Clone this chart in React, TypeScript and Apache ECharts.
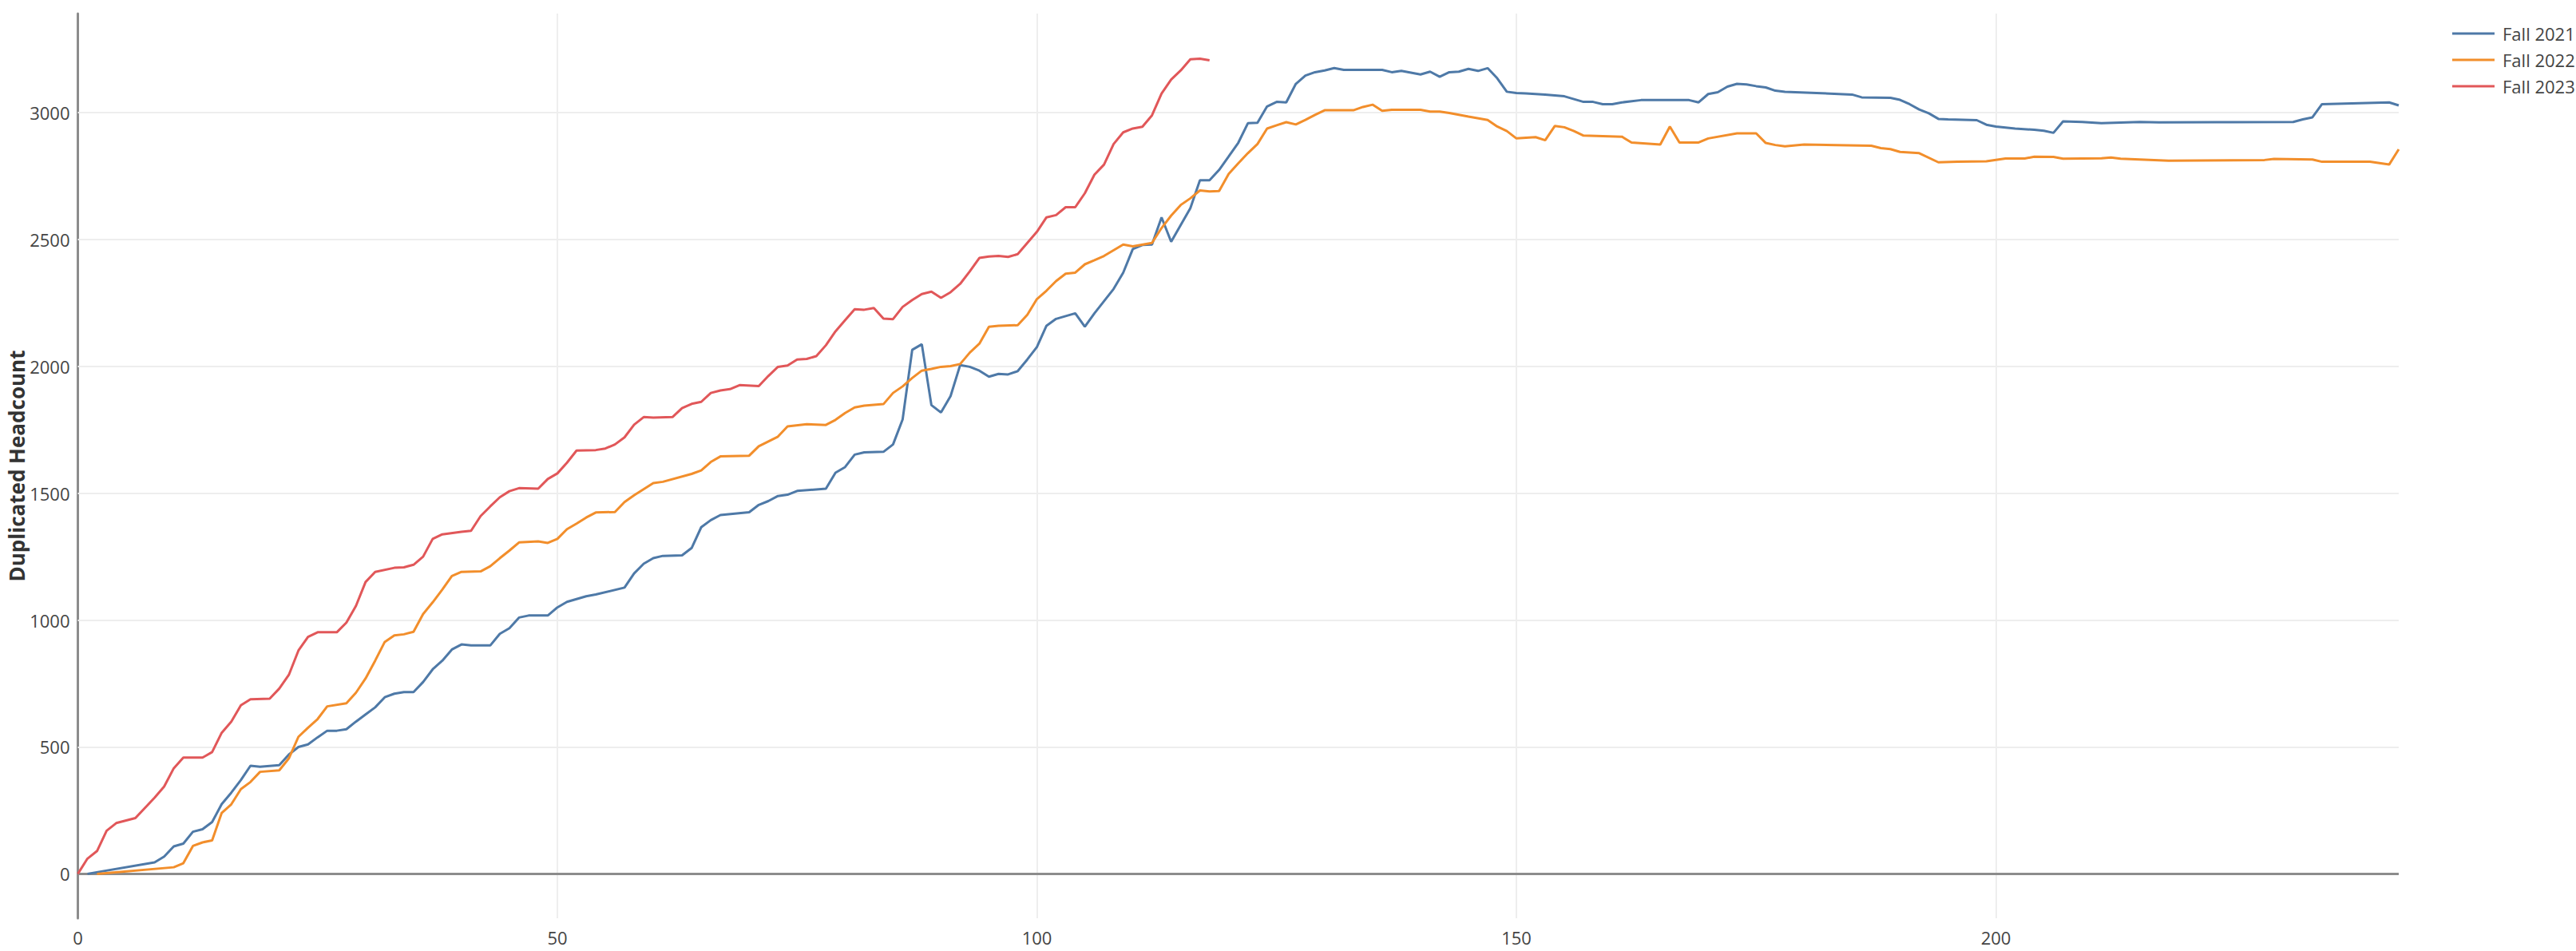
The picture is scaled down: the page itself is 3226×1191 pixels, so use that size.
import React, { useEffect, useRef } from "react";
import * as echarts from "echarts";

const seriesNames = ["Fall 2021", "Fall 2022", "Fall 2023"];
const seriesColors = ["#4e79a7", "#f28e2b", "#e15759"];
const xGridValues = [50, 100, 150, 200];
const yTickValues = [0, 500, 1000, 1500, 2000, 2500, 3000];
const yAxisTitle = "Duplicated Headcount";

// [day, duplicated headcount]
const fall2021: [number, number][] = [
  [1, 0], [8, 45], [9, 68], [10, 108], [11, 119], [12, 166], [13, 176], [14, 204], [15, 275],
  [16, 320], [17, 370], [18, 426], [19, 422], [21, 428], [22, 470], [23, 500], [24, 510],
  [25, 538], [26, 564], [27, 564], [28, 570], [29, 600], [30, 628], [31, 656], [32, 696],
  [33, 710], [34, 716], [35, 716], [36, 756], [37, 806], [38, 840], [39, 884], [40, 904],
  [41, 900], [43, 900], [44, 946], [45, 968], [46, 1010], [47, 1018], [49, 1018], [50, 1050],
  [51, 1072], [53, 1094], [54, 1101], [57, 1128], [58, 1184], [59, 1222], [60, 1244],
  [61, 1253], [63, 1255], [64, 1284], [65, 1366], [66, 1394], [67, 1414], [70, 1425],
  [71, 1454], [72, 1469], [73, 1489], [74, 1494], [75, 1509], [78, 1518], [79, 1581],
  [80, 1603], [81, 1652], [82, 1661], [84, 1663], [85, 1692], [86, 1791], [87, 2065],
  [88, 2087], [89, 1847], [90, 1818], [91, 1883], [92, 2005], [93, 1998], [94, 1983],
  [95, 1959], [96, 1970], [97, 1968], [98, 1981], [99, 2027], [100, 2076], [101, 2160],
  [102, 2187], [103, 2198], [104, 2209], [105, 2156], [106, 2209], [107, 2257], [108, 2305],
  [109, 2369], [110, 2462], [111, 2478], [112, 2480], [113, 2587], [114, 2491], [115, 2557],
  [116, 2623], [117, 2733], [118, 2733], [119, 2774], [120, 2827], [121, 2881], [122, 2958],
  [123, 2960], [124, 3024], [125, 3042], [126, 3040], [127, 3113], [128, 3146], [129, 3159],
  [130, 3166], [131, 3175], [132, 3168], [136, 3168], [137, 3159], [138, 3164], [139, 3157],
  [140, 3150], [141, 3161], [142, 3141], [143, 3159], [144, 3161], [145, 3172], [146, 3164],
  [147, 3175], [148, 3135], [149, 3082], [150, 3077], [151, 3075], [153, 3071], [155, 3064],
  [156, 3053], [157, 3042], [158, 3042], [159, 3033], [160, 3033], [161, 3040], [163, 3049],
  [168, 3049], [169, 3040], [170, 3073], [171, 3080], [172, 3102], [173, 3113], [174, 3111],
  [175, 3104], [176, 3099], [177, 3086], [178, 3082], [185, 3071], [186, 3060], [189, 3058],
  [190, 3050], [191, 3033], [192, 3012], [193, 2997], [194, 2975], [195, 2973], [198, 2970],
  [199, 2952], [200, 2945], [202, 2937], [204, 2932], [205, 2928], [206, 2920], [207, 2965],
  [209, 2963], [211, 2958], [215, 2963], [217, 2961], [223, 2962], [231, 2963], [232, 2973],
  [233, 2981], [234, 3033], [241, 3040], [242, 3028],
];

const fall2022: [number, number][] = [
  [2, 0], [10, 26], [11, 42], [12, 110], [13, 124], [14, 132], [15, 240], [16, 274], [17, 334],
  [18, 362], [19, 402], [21, 408], [22, 455], [23, 540], [24, 576], [25, 610], [26, 660],
  [28, 672], [29, 714], [30, 770], [31, 840], [32, 914], [33, 940], [34, 944], [35, 954],
  [36, 1024], [37, 1070], [38, 1120], [39, 1174], [40, 1190], [42, 1192], [43, 1212],
  [44, 1244], [45, 1274], [46, 1306], [48, 1310], [49, 1304], [50, 1320], [51, 1358],
  [52, 1380], [53, 1404], [54, 1424], [56, 1426], [57, 1465], [58, 1492], [60, 1540],
  [61, 1545], [64, 1576], [65, 1590], [66, 1623], [67, 1645], [70, 1648], [71, 1685],
  [73, 1723], [74, 1763], [76, 1772], [78, 1769], [79, 1789], [80, 1816], [81, 1838],
  [82, 1845], [84, 1851], [85, 1895], [86, 1921], [87, 1954], [88, 1983], [89, 1990],
  [90, 1998], [91, 2001], [92, 2009], [93, 2054], [94, 2089], [95, 2156], [96, 2160],
  [98, 2162], [99, 2203], [100, 2265], [101, 2298], [102, 2336], [103, 2365], [104, 2369],
  [105, 2402], [106, 2418], [107, 2435], [109, 2480], [110, 2473], [112, 2486], [113, 2545],
  [114, 2594], [115, 2636], [116, 2662], [117, 2693], [118, 2689], [119, 2691], [120, 2758],
  [121, 2800], [122, 2840], [123, 2876], [124, 2937], [125, 2950], [126, 2962], [127, 2953],
  [128, 2971], [129, 2991], [130, 3009], [133, 3009], [134, 3022], [135, 3031], [136, 3007],
  [137, 3011], [140, 3011], [141, 3004], [142, 3004], [143, 2998], [145, 2984], [147, 2971],
  [148, 2945], [149, 2927], [150, 2898], [152, 2903], [153, 2891], [154, 2947], [155, 2942],
  [156, 2927], [157, 2909], [161, 2905], [162, 2882], [165, 2874], [166, 2945], [167, 2882],
  [169, 2882], [170, 2898], [173, 2918], [175, 2918], [176, 2880], [177, 2872], [178, 2867],
  [180, 2874], [187, 2869], [188, 2860], [189, 2856], [190, 2845], [192, 2840], [194, 2804],
  [196, 2806], [199, 2808], [201, 2819], [203, 2819], [204, 2826], [206, 2825], [207, 2818],
  [211, 2820], [212, 2823], [213, 2818], [218, 2810], [228, 2813], [229, 2817], [233, 2815],
  [234, 2806], [239, 2806], [241, 2795], [242, 2855],
];

const fall2023: [number, number][] = [
  [0, 0], [1, 60], [2, 90], [3, 170], [4, 200], [6, 220], [7, 260], [8, 300], [9, 344],
  [10, 416], [11, 458], [13, 458], [14, 480], [15, 556], [16, 600], [17, 664], [18, 688],
  [20, 690], [21, 730], [22, 784], [23, 880], [24, 934], [25, 952], [27, 952], [28, 990],
  [29, 1056], [30, 1150], [31, 1190], [33, 1206], [34, 1208], [35, 1218], [36, 1250],
  [37, 1320], [38, 1338], [40, 1348], [41, 1352], [42, 1410], [43, 1448], [44, 1484],
  [45, 1508], [46, 1520], [48, 1518], [49, 1556], [50, 1578], [51, 1620], [52, 1668],
  [54, 1670], [55, 1676], [56, 1692], [57, 1720], [58, 1770], [59, 1800], [60, 1798],
  [62, 1800], [63, 1835], [64, 1852], [65, 1860], [66, 1895], [67, 1905], [68, 1910],
  [69, 1926], [71, 1922], [72, 1962], [73, 1998], [74, 2003], [75, 2027], [76, 2029],
  [77, 2040], [78, 2083], [79, 2138], [80, 2182], [81, 2225], [82, 2223], [83, 2230],
  [84, 2188], [85, 2186], [86, 2234], [87, 2261], [88, 2285], [89, 2294], [90, 2270],
  [91, 2292], [92, 2325], [93, 2374], [94, 2427], [95, 2433], [96, 2435], [97, 2431],
  [98, 2442], [99, 2486], [100, 2530], [101, 2587], [102, 2596], [103, 2627], [104, 2627],
  [105, 2682], [106, 2755], [107, 2795], [108, 2876], [109, 2922], [110, 2937], [111, 2944],
  [112, 2989], [113, 3075], [114, 3130], [115, 3166], [116, 3210], [117, 3212], [118, 3206],
];

const seriesData = [fall2021, fall2022, fall2023];
const FONT = '"Open Sans", "Noto Sans", sans-serif';

export default function App() {
  const ref = useRef<HTMLDivElement>(null);

  useEffect(() => {
    if (!ref.current) return;
    const chart = echarts.init(ref.current, null, { renderer: "svg" });

    const gridLineStyle = { color: "#eeeeee", width: 2, type: "solid" as const };
    const zeroLineStyle = { color: "#8c8c8c", width: 3, type: "solid" as const };

    const helper = {
      name: "__grid__",
      type: "line",
      data: fall2021,
      showSymbol: false,
      symbol: "none",
      silent: true,
      z: 1,
      lineStyle: { opacity: 0 },
      markLine: {
        silent: true,
        z: 1,
        symbol: ["none", "none"],
        label: { show: false },
        animation: false,
        data: [
          ...xGridValues.map((v) => ({ xAxis: v, lineStyle: gridLineStyle })),
          ...yTickValues.filter((v) => v !== 0).map((v) => ({ yAxis: v, lineStyle: gridLineStyle })),
          { yAxis: 0, lineStyle: zeroLineStyle },
        ],
      },
    };

    const lines = seriesNames.map((name, i) => ({
      name,
      type: "line",
      data: seriesData[i],
      showSymbol: false,
      symbol: "none",
      z: 3,
      color: seriesColors[i],
      lineStyle: { color: seriesColors[i], width: 3 },
    }));

    chart.setOption({
      animation: false,
      backgroundColor: "#ffffff",
      textStyle: { fontFamily: FONT },
      grid: {
        left: 97.5,
        right: 222,
        top: 17,
        bottom: 41,
        containLabel: false,
        outerBoundsMode: "none",
      },
      legend: {
        data: seriesNames,
        orient: "vertical",
        left: 3071,
        top: 31,
        padding: 0,
        icon: "rect",
        itemWidth: 53,
        itemHeight: 3,
        itemGap: 11,
        textStyle: {
          fontSize: 22,
          lineHeight: 22,
          color: "#444444",
          fontFamily: FONT,
          padding: [0, 0, 0, 5],
        },
      },
      xAxis: {
        type: "value",
        min: 0,
        max: 242,
        interval: 50,
        axisLine: { show: false, onZero: false },
        axisTick: { show: false },
        splitLine: { show: false },
        axisLabel: {
          fontSize: 22,
          color: "#444444",
          margin: 13,
          fontFamily: FONT,
          formatter: (v: number) => (v % 50 === 0 ? String(v) : ""),
        },
      },
      yAxis: {
        type: "value",
        min: -175,
        max: 3390,
        name: yAxisTitle,
        nameLocation: "middle",
        nameGap: 64,
        nameMoveOverlap: false,
        nameTextStyle: {
          fontSize: 26,
          lineHeight: 26,
          fontWeight: "bold",
          color: "#333333",
          fontFamily: FONT,
        },
        axisLine: { show: true, onZero: false, lineStyle: { color: "#8c8c8c", width: 3 } },
        axisTick: { show: false },
        splitLine: { show: false },
        axisLabel: {
          customValues: yTickValues,
          fontSize: 22,
          color: "#444444",
          margin: 10,
          fontFamily: FONT,
          formatter: (v: number) => String(v),
        },
      },
      series: [helper, ...lines],
    });

    return () => chart.dispose();
  }, []);

  return (
    <div
      ref={ref}
      style={{ position: "absolute", left: 0, top: 0, width: 3226, height: 1191 }}
    />
  );
}
